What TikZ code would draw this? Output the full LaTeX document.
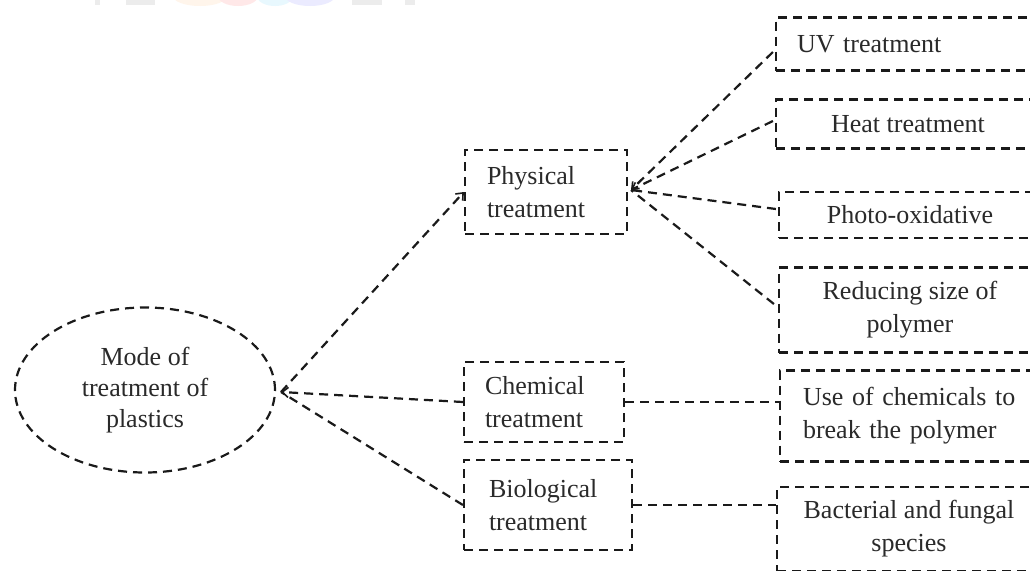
\documentclass[tikz,border=0pt]{standalone}
\usepackage{fontspec}
\setmainfont{Liberation Serif}
\usetikzlibrary{arrows.meta,shapes.geometric,calc}
\definecolor{txt}{HTML}{2A2A2A}
\definecolor{ln}{HTML}{1A1A1A}
\tikzset{
  dline/.style={draw=ln, line width=2.2pt, dash pattern=on 9pt off 6pt},
  boxnode/.style={dline, rectangle, inner sep=0pt, text=txt, font=\fontsize{26}{33}\selectfont},
  ovalnode/.style={dline, ellipse, inner sep=0pt, text=txt, font=\fontsize{26}{31}\selectfont, align=center},
  conn/.style={dline},
  tip/.style={-{Straight Barb[length=6pt,width=10pt,line width=1.6pt]}},
  wm/.style={draw=none}
}
\begin{document}
\begin{tikzpicture}[x=1pt,y=-1pt]
\useasboundingbox (0,0) rectangle (1030,570);
\clip (0,0) rectangle (1030,570);
\fill[white] (0,0) rectangle (1030,570);
% faint watermark at top edge
\fill[wm, fill=gray!15] (95,0) rectangle (100,5);
\fill[wm, fill=gray!15] (126,0) rectangle (155,5);
\fill[wm, fill=orange!8] (200,-4) ellipse (27 and 10);
\fill[wm, fill=red!9] (238,-4) ellipse (20 and 10);
\fill[wm, fill=cyan!9] (275,-4) ellipse (18 and 10);
\fill[wm, fill=blue!8] (310,-4) ellipse (25 and 10);
\fill[wm, fill=gray!15] (352,0) rectangle (382,5);
\fill[wm, fill=gray!15] (405,0) rectangle (415,5);

% nodes
\node[ovalnode, minimum width=260pt, minimum height=165pt] (mode) at (145,390)
  {Mode of\\treatment of\\plastics};
\node[boxnode, minimum width=162pt, minimum height=84pt, text width=118pt, align=left] (phys) at (546,192)
  {Physical\\treatment};
\node[boxnode, minimum width=160pt, minimum height=80pt, text width=118pt, align=left] (chem) at (544,402)
  {Chemical\\treatment};
\node[boxnode, minimum width=168pt, minimum height=90pt, text width=118pt, align=left] (bio) at (548,505)
  {Biological\\treatment};

\node[boxnode, minimum width=264pt, minimum height=53pt, text width=222pt, align=left] (uv) at (908,44)
  {UV treatment};
\node[boxnode, minimum width=264pt, minimum height=49pt, align=center] (heat) at (908,124)
  {Heat treatment};
\node[boxnode, minimum width=262pt, minimum height=46pt, align=center] (photo) at (910,215)
  {Photo-oxidative};
\node[boxnode, minimum width=262pt, minimum height=85pt, align=center] (reduce) at (910,310)
  {Reducing size of\\polymer};
\node[boxnode, minimum width=262pt, minimum height=91pt, text width=216pt, align=left] (use) at (911,416)
  {Use of chemicals to\\break the polymer};
\node[boxnode, minimum width=264pt, minimum height=84pt, align=center] (bact) at (909,529)
  {Bacterial and fungal\\species};

% convergence points
\coordinate (mp) at (281,392);
\coordinate (pp) at (631,190);

% connectors
\draw[conn, tip] (mp) -- (phys.west);
\draw[conn, tip] (chem.west) -- (mp);
\draw[conn] (bio.west) -- (mp);
\draw[conn, tip] ($(uv.west)+(-2,8)$) -- (pp);
\draw[conn, tip] ($(heat.west)+(-2,-3)$) -- (pp);
\draw[conn] ($(photo.west)+(-2,-6)$) -- (pp);
\draw[conn] ($(reduce.west)+(-4,-6)$) -- (pp);
\draw[conn] (chem.east) -- (use.west |- chem.east);
\draw[conn] (bio.east) -- (bact.west |- bio.east);
\end{tikzpicture}
\end{document}
